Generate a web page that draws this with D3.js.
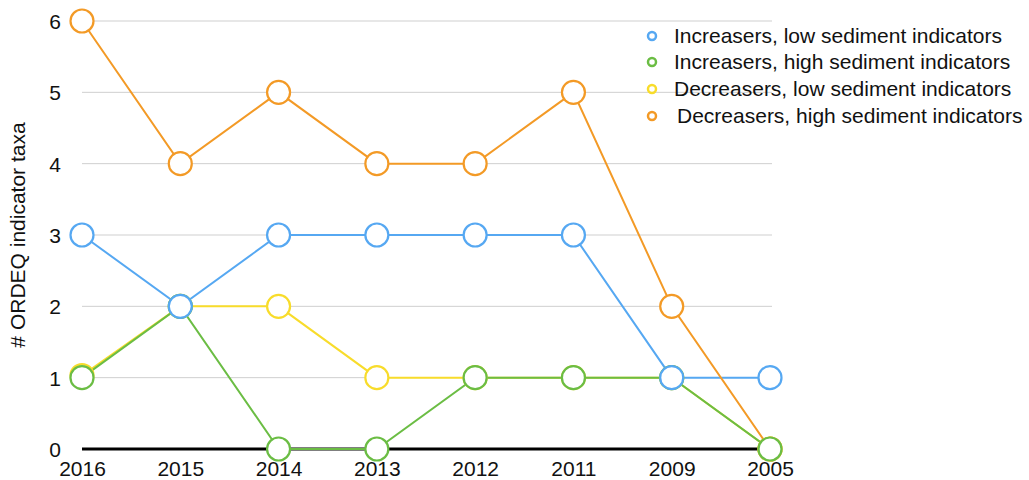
<!DOCTYPE html>
<html>
<head>
<meta charset="utf-8">
<script src="https://cdn.jsdelivr.net/npm/d3@7"></script>
<style>
  html, body { margin: 0; padding: 0; background: #fff; }
  svg { display: block; font-family: "Liberation Sans", Arial, Helvetica, sans-serif; }
</style>
</head>
<body>
<svg id="chart" width="1029" height="480"></svg>
<script>
// Sampling years (left to right)
const years = ["2016", "2015", "2014", "2013", "2012", "2011", "2009", "2005"];
const yTicks = [0, 1, 2, 3, 4, 5, 6];

// Number of ORDEQ indicator taxa per group
const increasersLow  = [3, 2, 3, 3, 3, 3, 1, 1];
const increasersHigh = [1, 2, 0, 0, 1, 1, 1, 0];
const decreasersLow  = [1.03, 2, 2, 1, 1, 1, 1, 0];
const decreasersHigh = [6, 4, 5, 4, 4, 5, 2, 0];

const seriesNames = [
  "Increasers, low sediment indicators",
  "Increasers, high sediment indicators",
  "Decreasers, low sediment indicators",
  "Decreasers, high sediment indicators"
];
const seriesColors = ["#56a8f2", "#6bbd44", "#f8dc2b", "#f39a26"];

const FONT = 21;

const series = [increasersLow, increasersHigh, decreasersLow, decreasersHigh].map((vals, i) => ({
  name: seriesNames[i],
  color: seriesColors[i],
  values: vals.map((v, j) => ({ year: years[j], value: v }))
}));

const svg = d3.select("#chart");

const x = d3.scalePoint().domain(years).range([82, 770]);
const y = d3.scaleLinear().domain([0, 6]).range([449, 21]);

// Horizontal gridlines
svg.append("g")
  .selectAll("line")
  .data(yTicks.filter(t => t > 0))
  .join("line")
  .attr("x1", 82).attr("x2", 772)
  .attr("y1", d => y(d)).attr("y2", d => y(d))
  .attr("stroke", "#cfcfcf").attr("stroke-width", 1);

// Y axis tick labels
const yAxis = d3.axisLeft(y).tickValues(yTicks).tickSize(0).tickPadding(0).tickFormat(d3.format("d"));
const yg = svg.append("g").attr("transform", "translate(61,0)").call(yAxis);
yg.select(".domain").remove();
yg.selectAll("text").attr("font-size", FONT).attr("fill", "#111")
  .attr("font-family", "Liberation Sans, Arial, sans-serif")
  .attr("text-anchor", "end").attr("dy", "0.35em");

// Baseline
svg.append("line")
  .attr("x1", 82).attr("x2", 772)
  .attr("y1", y(0)).attr("y2", y(0))
  .attr("stroke", "#000").attr("stroke-width", 3);

// X axis labels
const xAxis = d3.axisBottom(x).tickSize(0).tickPadding(0);
const xg = svg.append("g").attr("transform", `translate(0,${y(0) + 27})`).call(xAxis);
xg.select(".domain").remove();
xg.selectAll("text").attr("font-size", FONT).attr("fill", "#111")
  .attr("font-family", "Liberation Sans, Arial, sans-serif")
  .attr("y", 0).attr("dy", 0);

// Y axis title
svg.append("text")
  .attr("transform", `translate(25,${y(3)}) rotate(-90)`)
  .attr("text-anchor", "middle")
  .attr("font-size", FONT)
  .attr("fill", "#111")
  .text("# ORDEQ indicator taxa");

const line = d3.line().x(d => x(d.year)).y(d => y(d.value));

// Lines (blue, yellow, green, orange stacking)
const lineOrder = [0, 2, 1, 3];
svg.append("g").selectAll("path")
  .data(lineOrder.map(i => series[i]))
  .join("path")
  .attr("d", d => line(d.values))
  .attr("fill", "none")
  .attr("stroke", d => d.color)
  .attr("stroke-width", 2);

// Hollow markers (orange at the bottom, blue on top)
const markerOrder = [3, 2, 1, 0];
svg.append("g").selectAll("g")
  .data(markerOrder.map(i => series[i]))
  .join("g")
  .selectAll("circle")
  .data(d => d.values.map(v => ({ ...v, color: d.color })))
  .join("circle")
  .attr("cx", d => x(d.year))
  .attr("cy", d => y(d.value))
  .attr("r", 11.5)
  .attr("fill", "#fff")
  .attr("stroke", d => d.color)
  .attr("stroke-width", 2.2);

// Legend
const legendRows = [36, 62, 89, 116];
const legendTextX = [674, 674, 674, 677];
const lg = svg.append("g");
series.forEach((s, i) => {
  lg.append("circle")
    .attr("cx", 652).attr("cy", legendRows[i])
    .attr("r", 4)
    .attr("fill", "#fff")
    .attr("stroke", s.color)
    .attr("stroke-width", 2.5);
  lg.append("text")
    .attr("x", legendTextX[i]).attr("y", legendRows[i])
    .attr("dy", "0.35em")
    .attr("font-size", FONT)
    .attr("fill", "#111")
    .text(s.name);
});
</script>
</body>
</html>
